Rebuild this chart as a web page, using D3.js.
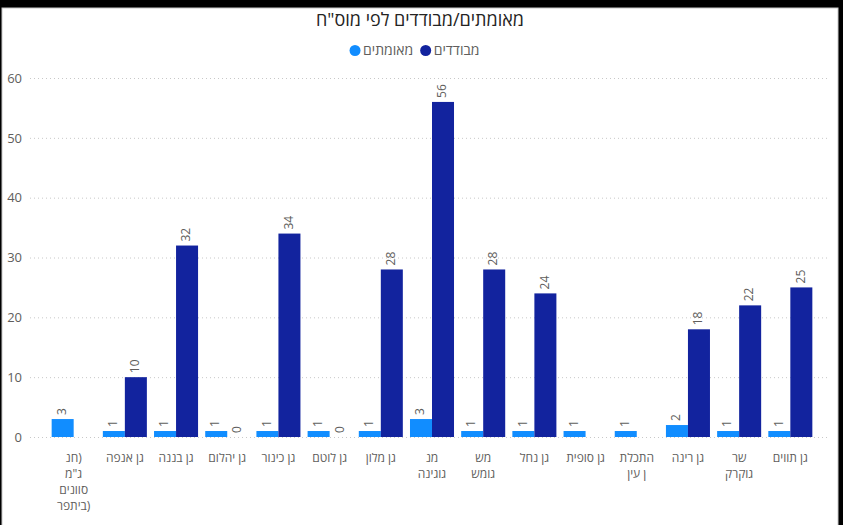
<!DOCTYPE html>
<html>
<head>
<meta charset="utf-8">
<script src="https://cdn.jsdelivr.net/npm/d3@7"></script>
<style>
  html, body { margin: 0; padding: 0; background: #000; }
  svg { display: block; }
</style>
</head>
<body>
<div class="container"></div>
<script>
const WIDTH = 843
const HEIGHT = 525

// categories, as wrapped lines in the reference
const categories = [
  ['חנ)', 'ג"מ', 'סוונים', 'ביתפר)'],
  ['גן אנפה'],
  ['גן בננה'],
  ['גן יהלום'],
  ['גן כינור'],
  ['גן לוטם'],
  ['גן מלון'],
  ['מנ', 'גוגינה'],
  ['מש', 'גומש'],
  ['גן נחל'],
  ['גן סופית'],
  ['התכלת', 'ן עין'],
  ['גן רינה'],
  ['שר', 'גוקרק'],
  ['גן תווים']
]

const confirmed = [3, 1, 1, 1, 1, 1, 1, 3, 1, 1, 1, 1, 2, 1, 1]
const isolated = [null, 10, 32, 0, 34, 0, 28, 56, 28, 24, null, null, 18, 22, 25]

const seriesNames = ['מאומתים', 'מבודדים']
const seriesColors = ['#118DFF', '#12239E']
const yTicks = [0, 10, 20, 30, 40, 50, 60]

const title = 'מאומתים/מבודדים לפי מוס"ח'

const FONT = '"Segoe UI", "Open Sans", "Liberation Sans", "DejaVu Sans", sans-serif'

const svg = d3.select('.container').append('svg')
    .attr('width', WIDTH)
    .attr('height', HEIGHT)
    .attr('viewBox', `0 0 ${WIDTH} ${HEIGHT}`)
    .style('font-family', FONT)

// black frame + white card
svg.append('rect').attr('width', WIDTH).attr('height', HEIGHT).attr('fill', '#000')
svg.append('rect')
    .attr('x', 2).attr('y', 8)
    .attr('width', 836).attr('height', HEIGHT)
    .attr('fill', '#fff')
    .attr('stroke', '#c8c8c8').attr('stroke-width', 1)

const x = d3.scaleBand()
    .domain(d3.range(categories.length))
    .range([45, 819])
    .paddingInner(0.14)
    .paddingOuter(0.13)

const xSub = d3.scaleBand()
    .domain([0, 1])
    .range([0, x.bandwidth()])

const y = d3.scaleLinear()
    .domain([0, 60])
    .range([437, 78])

// title
svg.append('text')
    .attr('x', 420)
    .attr('y', 26)
    .attr('text-anchor', 'middle')
    .attr('font-size', 18)
    .attr('fill', '#252423')
    .text(title)

// legend
const legend = svg.append('g')
const items = legend.selectAll('g')
    .data(seriesNames)
    .join('g')
items.append('circle')
    .attr('r', 5.5)
    .attr('cy', -4.5)
    .attr('fill', (d, i) => seriesColors[i])
items.append('text')
    .attr('x', 8)
    .attr('font-size', 14)
    .attr('fill', '#605E5C')
    .text(d => d)
let lx = 0
items.each(function () {
    d3.select(this).attr('transform', `translate(${lx},0)`)
    lx += this.getBBox().width + 7
})
legend.attr('transform', `translate(${415 - (lx - 7) / 2 + 5},55)`)

// grid + y axis
const yAxis = svg.append('g')
    .attr('transform', 'translate(30,0)')
    .call(d3.axisLeft(y).tickValues(yTicks).tickSize(0).tickPadding(8))
yAxis.select('.domain').remove()
yAxis.selectAll('text')
    .attr('font-size', 13)
    .attr('font-family', FONT)
    .attr('fill', '#605E5C')
yAxis.selectAll('.tick').append('line')
    .attr('x2', 800)
    .attr('stroke', '#c8c8c8')
    .attr('stroke-dasharray', '1,3')

// bars
const rows = categories.map((c, i) => ({ i, values: [confirmed[i], isolated[i]] }))
const group = svg.append('g')
    .selectAll('g')
    .data(rows)
    .join('g')
    .attr('transform', d => `translate(${x(d.i)},0)`)

const cells = group.selectAll('g')
    .data(d => d.values.map((v, k) => ({ v, k })).filter(d => d.v !== null))
    .join('g')

cells.append('rect')
    .attr('x', d => xSub(d.k))
    .attr('width', xSub.bandwidth())
    .attr('y', d => y(d.v))
    .attr('height', d => y(0) - y(d.v))
    .attr('fill', d => seriesColors[d.k])

cells.append('text')
    .attr('transform', d => `translate(${xSub(d.k) + xSub.bandwidth() / 2},${y(d.v) - 4}) rotate(-90)`)
    .attr('dominant-baseline', 'middle')
    .attr('font-size', 12)
    .attr('fill', '#605E5C')
    .text(d => d.v)

// x labels
const xl = svg.append('g')
    .selectAll('text')
    .data(categories)
    .join('text')
    .attr('font-size', 12)
    .attr('fill', '#605E5C')
    .attr('text-anchor', 'middle')
xl.selectAll('tspan')
    .data((d, i) => d.map(line => ({ line, i })))
    .join('tspan')
    .attr('x', d => x(d.i) + x.bandwidth() / 2)
    .attr('y', (d, j) => 462 + j * 16)
    .text(d => d.line)
</script>
</body>
</html>
